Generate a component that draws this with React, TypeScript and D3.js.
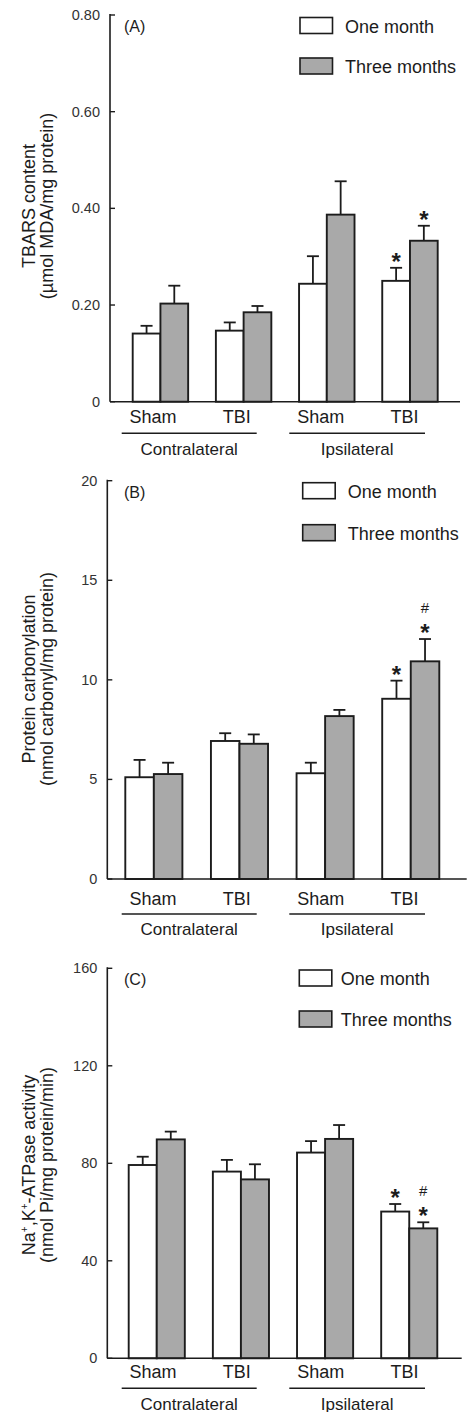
import React from "react";
import * as d3 from "d3";

// ---------- data ----------
const groups = ["Contralateral Sham", "Contralateral TBI", "Ipsilateral Sham", "Ipsilateral TBI"];
const groupTickLabels = ["Sham", "TBI", "Sham", "TBI"];
const regionLabels = ["Contralateral", "Ipsilateral"];
const seriesNames = ["One month", "Three months"];

const tbarsOne = [0.141, 0.147, 0.244, 0.25];
const tbarsOneErr = [0.016, 0.017, 0.057, 0.027];
const tbarsThree = [0.203, 0.185, 0.387, 0.333];
const tbarsThreeErr = [0.037, 0.013, 0.069, 0.031];
const tbarsTicks = [0, 0.2, 0.4, 0.6, 0.8];
const tbarsTickLabels = ["0", "0.20", "0.40", "0.60", "0.80"];
const tbarsMarksOne = ["", "", "", "*"];
const tbarsMarksThree = ["", "", "", "*"];

const carbOne = [5.11, 6.93, 5.31, 9.05];
const carbOneErr = [0.87, 0.39, 0.53, 0.91];
const carbThree = [5.27, 6.79, 8.18, 10.93];
const carbThreeErr = [0.57, 0.47, 0.31, 1.12];
const carbTicks = [0, 5, 10, 15, 20];
const carbTickLabels = ["0", "5", "10", "15", "20"];
const carbMarksOne = ["", "", "", "*"];
const carbMarksThree = ["", "", "", "#*"];

const atpOne = [79.3, 76.6, 84.4, 60.2];
const atpOneErr = [3.4, 4.8, 4.7, 3.1];
const atpThree = [89.8, 73.4, 90.0, 53.3];
const atpThreeErr = [3.2, 6.2, 5.7, 2.5];
const atpTicks = [0, 40, 80, 120, 160];
const atpTickLabels = ["0", "40", "80", "120", "160"];
const atpMarksOne = ["", "", "", "*"];
const atpMarksThree = ["", "", "", "#*"];

// ---------- layout ----------
const FONT = "'Liberation Sans', Arial, Helvetica, sans-serif";
const INK = "#1c1c1c";
const GRAY = "#a9a9a9";

type PanelCfg = {
  letter: string;
  one: number[]; oneErr: number[]; three: number[]; threeErr: number[];
  marksOne: string[]; marksThree: string[];
  ticks: number[]; tickLabels: string[]; max: number;
  axisX: number; yTop: number; yBottom: number; xEnd: number;
  barLeft: number; barRight: number;
  titleLines: React.ReactNode[]; titleCenterY: number;
  legendX: number; legendY: number; legendTextX: number; legendGap: number;
  catY: number; lineY: number; regionY: number;
};

const panels: PanelCfg[] = [
  {
    letter: "(A)", one: tbarsOne, oneErr: tbarsOneErr, three: tbarsThree, threeErr: tbarsThreeErr,
    marksOne: tbarsMarksOne, marksThree: tbarsMarksThree,
    ticks: tbarsTicks, tickLabels: tbarsTickLabels, max: 0.8,
    axisX: 110, yTop: 15, yBottom: 401.7, xEnd: 460, barLeft: 132.7, barRight: 437.7,
    titleLines: ["TBARS content", "(µmol MDA/mg protein)"], titleCenterY: 206,
    legendX: 300, legendY: 17.5, legendTextX: 345, legendGap: 40.5,
    catY: 422.5, lineY: 433.3, regionY: 455,
  },
  {
    letter: "(B)", one: carbOne, oneErr: carbOneErr, three: carbThree, threeErr: carbThreeErr,
    marksOne: carbMarksOne, marksThree: carbMarksThree,
    ticks: carbTicks, tickLabels: carbTickLabels, max: 20,
    axisX: 107.3, yTop: 480.7, yBottom: 879, xEnd: 466.7, barLeft: 125.3, barRight: 439.3,
    titleLines: ["Protein carbonylation", "(nmol carbonyl/mg protein)"], titleCenterY: 679,
    legendX: 302.7, legendY: 482.7, legendTextX: 347.7, legendGap: 42,
    catY: 905, lineY: 914, regionY: 935,
  },
  {
    letter: "(C)", one: atpOne, oneErr: atpOneErr, three: atpThree, threeErr: atpThreeErr,
    marksOne: atpMarksOne, marksThree: atpMarksThree,
    ticks: atpTicks, tickLabels: atpTickLabels, max: 160,
    axisX: 107.3, yTop: 968.3, yBottom: 1358.3, xEnd: 461.7, barLeft: 128.7, barRight: 437.3,
    titleLines: [
      <>Na<tspan fontSize="10" dy="-7">+</tspan><tspan dy="7">,K</tspan><tspan fontSize="10" dy="-7">+</tspan><tspan dy="7">-ATPase activity</tspan></>,
      "(nmol Pi/mg protein/min)",
    ],
    titleCenterY: 1165,
    legendX: 299.3, legendY: 970, legendTextX: 340.7, legendGap: 41,
    catY: 1378.3, lineY: 1388.3, regionY: 1409.5,
  },
];

// shared label positions (same across panels)
const catLabelX = [153, 236.7, 320.8, 404.5];
const regionSpans: [number, number][] = [[121.7, 256.7], [289.3, 425]];

function Panel({ p }: { p: PanelCfg }) {
  const y = d3.scaleLinear().domain([0, p.max]).range([p.yBottom, p.yTop]);
  const x0 = d3.scaleBand<string>().domain(groups).range([p.barLeft, p.barRight]).paddingInner(1 / 3).paddingOuter(0);
  const x1 = d3.scaleBand<string>().domain(seriesNames).range([0, x0.bandwidth()]).padding(0);
  const bw = x1.bandwidth();
  const series = [
    { name: seriesNames[0], vals: p.one, errs: p.oneErr, marks: p.marksOne, fill: "#ffffff" },
    { name: seriesNames[1], vals: p.three, errs: p.threeErr, marks: p.marksThree, fill: GRAY },
  ];
  return (
    <g fontFamily={FONT} fill={INK}>
      {/* bars */}
      {series.map((s) =>
        groups.map((g, i) => {
          const bx = (x0(g) as number) + (x1(s.name) as number);
          const top = y(s.vals[i]);
          const errTop = y(s.vals[i] + s.errs[i]);
          const cx = bx + bw / 2;
          const mark = s.marks[i];
          return (
            <g key={s.name + g}>
              <line x1={cx} x2={cx} y1={top} y2={errTop} stroke={INK} strokeWidth={1.8} />
              <line x1={cx - 6} x2={cx + 6} y1={errTop} y2={errTop} stroke={INK} strokeWidth={1.8} />
              <rect x={bx} y={top} width={bw} height={p.yBottom - top} fill={s.fill} stroke={INK} strokeWidth={1.9} />
              {mark.includes("*") && (
                <text x={cx} y={errTop + 2} textAnchor="middle" fontSize={24} fontWeight="bold" fontFamily={FONT}>*</text>
              )}
              {mark.includes("#") && (
                <text x={cx} y={errTop - 26} textAnchor="middle" fontSize={15} fontFamily={FONT}>#</text>
              )}
            </g>
          );
        })
      )}
      {/* axes */}
      <line x1={p.axisX} x2={p.axisX} y1={p.yTop - 1} y2={p.yBottom} stroke={INK} strokeWidth={1.6} />
      <line x1={p.axisX} x2={p.xEnd} y1={p.yBottom} y2={p.yBottom} stroke={INK} strokeWidth={1.6} />
      {p.ticks.map((t, i) => (
        <g key={t}>
          <line x1={p.axisX} x2={p.axisX + 5} y1={y(t)} y2={y(t)} stroke={INK} strokeWidth={1.4} />
          <text x={p.axisX - 10} y={y(t) + 5} textAnchor="end" fontSize={14.5} fill="#333">{p.tickLabels[i]}</text>
        </g>
      ))}
      {/* panel letter */}
      <text x={124} y={p.yTop + 17} fontSize={16}>{p.letter}</text>
      {/* legend */}
      {series.map((s, i) => (
        <g key={s.name}>
          <rect x={p.legendX} y={p.legendY + i * p.legendGap} width={32.5} height={16} fill={s.fill} stroke={INK} strokeWidth={1.6} />
          <text x={p.legendTextX} y={p.legendY + i * p.legendGap + 15} fontSize={18}>{s.name}</text>
        </g>
      ))}
      {/* category labels */}
      {groupTickLabels.map((l, i) => (
        <text key={i} x={catLabelX[i]} y={p.catY} textAnchor="middle" fontSize={18}>{l}</text>
      ))}
      {regionLabels.map((r, i) => (
        <g key={r}>
          <line x1={regionSpans[i][0]} x2={regionSpans[i][1]} y1={p.lineY} y2={p.lineY} stroke={INK} strokeWidth={1.4} />
          <text x={(regionSpans[i][0] + regionSpans[i][1]) / 2} y={p.regionY} textAnchor="middle" fontSize={17}>{r}</text>
        </g>
      ))}
      {/* y title */}
      {p.titleLines.map((t, i) => (
        <text key={i} transform={`translate(${35 + i * 18},${p.titleCenterY}) rotate(-90)`} textAnchor="middle" fontSize={18}>{t}</text>
      ))}
    </g>
  );
}

export default function App() {
  return (
    <svg width={471} height={1412} style={{ position: "absolute", left: 0, top: 0, background: "#fff" }}>
      <rect width={471} height={1412} fill="#fff" />
      {panels.map((p) => (
        <Panel key={p.letter} p={p} />
      ))}
    </svg>
  );
}
